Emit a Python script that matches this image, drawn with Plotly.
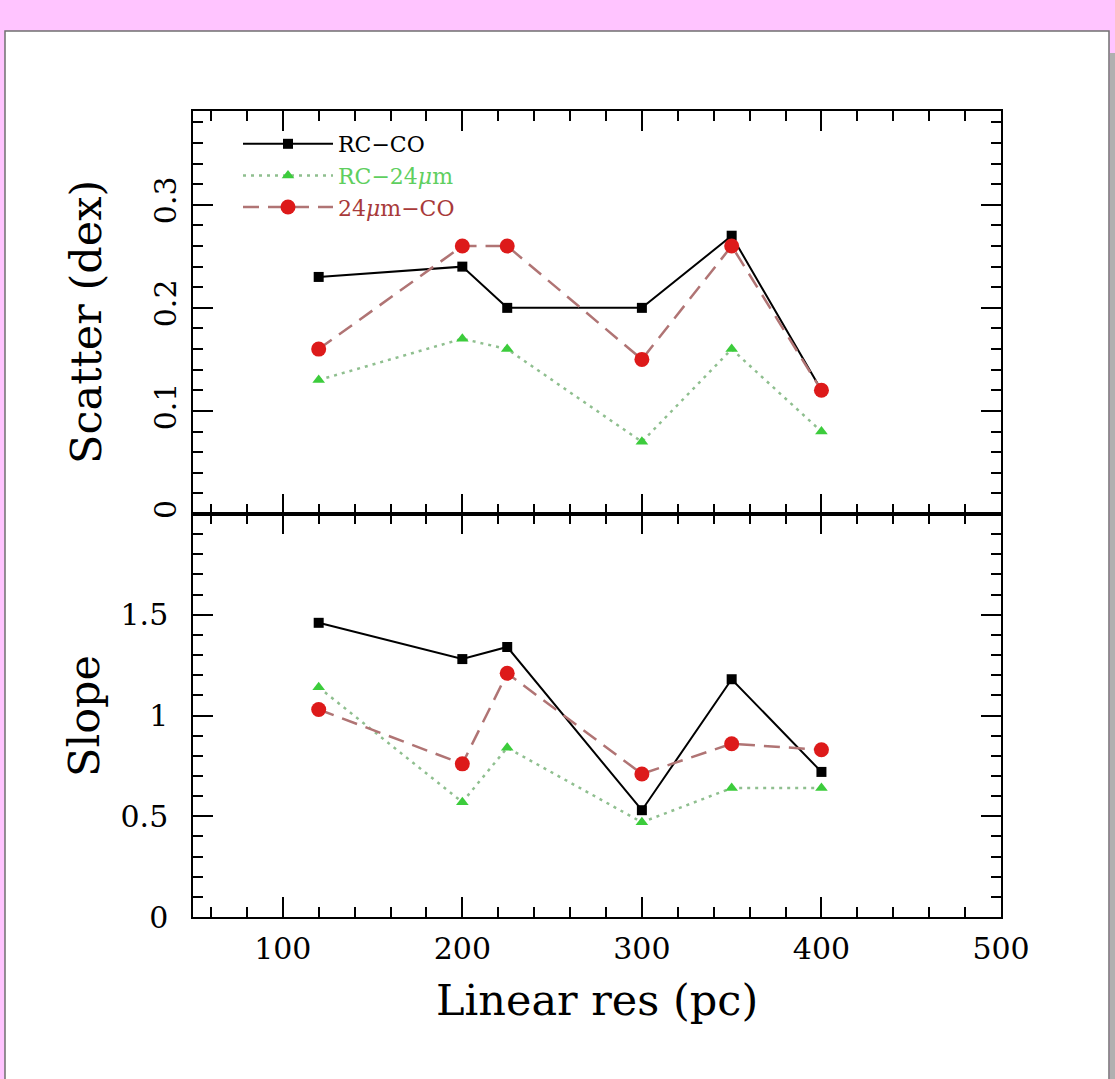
import plotly.graph_objects as go

# ---- data ----
res_pc = [120, 200, 225, 300, 350, 400]
scatter_rc_co = [0.23, 0.24, 0.20, 0.20, 0.27, 0.12]
scatter_rc_24 = [0.13, 0.17, 0.16, 0.07, 0.16, 0.08]
scatter_24_co = [0.16, 0.26, 0.26, 0.15, 0.26, 0.12]
slope_rc_co = [1.46, 1.28, 1.34, 0.53, 1.18, 0.72]
slope_rc_24 = [1.14, 0.57, 0.84, 0.47, 0.64, 0.64]
slope_24_co = [1.03, 0.76, 1.21, 0.71, 0.86, 0.83]

series_names = ["RC\u2212CO",
                "<span style='color:#5fcf5f'>RC\u221224<i>\u03bc</i>m</span>",
                "<span style='color:#a83a3a'>24<i>\u03bc</i>m\u2212CO</span>"]
x_tickvals = [100, 200, 300, 400, 500]

W, H = 1115, 1079
L, R, T, B = 193, 1001, 111, 917
FONT = "DejaVu Serif"

def fx(px):
    return (px - L) / (R - L)

def fy(py):
    return 1 - (py - T) / (B - T)

styles = [
    dict(line=dict(color="black", width=2, dash="solid"),
         marker=dict(symbol="square", size=10, color="black")),
    dict(line=dict(color="#8fbf8f", width=2.5, dash="3px,5px"),
         marker=dict(symbol="triangle-up", size=11, color="#3ccc3c")),
    dict(line=dict(color="#b07474", width=2.5, dash="16px,9px"),
         marker=dict(symbol="circle", size=15, color="#dd1a1a")),
]

fig = go.Figure()
top_sets = [scatter_rc_co, scatter_rc_24, scatter_24_co]
bot_sets = [slope_rc_co, slope_rc_24, slope_24_co]
for i in range(3):
    fig.add_trace(go.Scatter(x=res_pc, y=top_sets[i], mode="lines+markers",
                             name=series_names[i], xaxis="x", yaxis="y",
                             showlegend=True, **styles[i]))
for i in range(3):
    fig.add_trace(go.Scatter(x=res_pc, y=bot_sets[i], mode="lines+markers",
                             name=series_names[i], xaxis="x2", yaxis="y2",
                             showlegend=False, **styles[i]))

axis_common = dict(showline=True, linecolor="black", linewidth=1.5, mirror="allticks",
                   ticks="inside", tickcolor="black", tickwidth=1.5, ticklen=20,
                   showgrid=False, zeroline=False,
                   tickfont=dict(family=FONT, size=30, color="black"))

fig.update_layout(
    width=W, height=H,
    margin=dict(l=L, r=W - R, t=T, b=H - B),
    paper_bgcolor="#ffc4ff",
    plot_bgcolor="white",
    font=dict(family=FONT, color="black"),
    xaxis=dict(domain=[0, 1], anchor="y", range=[50, 500], tickvals=x_tickvals,
               showticklabels=False, matches="x2",
               minor=dict(dtick=20, tick0=0, ticklen=10, ticks="inside", tickcolor="black", tickwidth=1.5),
               **axis_common),
    yaxis=dict(domain=[0.5, 1], anchor="x", range=[0, 0.391], tickvals=[0, 0.1, 0.2, 0.3],
               ticktext=["0", "0.1", "0.2", "0.3"], tickangle=-90, ticklabelstandoff=3,
               minor=dict(dtick=0.02, tick0=0, ticklen=10, ticks="inside", tickcolor="black", tickwidth=1.5),
               **axis_common),
    xaxis2=dict(domain=[0, 1], anchor="y2", range=[50, 500], tickvals=x_tickvals,
                ticktext=[str(v) for v in x_tickvals], ticklabelstandoff=4,
                minor=dict(dtick=20, tick0=0, ticklen=10, ticks="inside", tickcolor="black", tickwidth=1.5),
                **axis_common),
    yaxis2=dict(domain=[0, 0.5], anchor="x2", range=[0, 2.0], tickvals=[0, 0.5, 1, 1.5],
                ticktext=["0", "0.5", "1", "1.5"], ticklabelstandoff=17,
                minor=dict(dtick=0.1, tick0=0, ticklen=10, ticks="inside", tickcolor="black", tickwidth=1.5),
                **axis_common),
    legend=dict(x=fx(238), y=fy(123), xanchor="left", yanchor="top",
                bgcolor="rgba(0,0,0,0)", font=dict(family=FONT, size=22, color="black"),
                tracegroupgap=0, itemwidth=90),
    showlegend=True,
)

# white card with border and shadow
fig.add_shape(type="rect", xref="paper", yref="paper", layer="below",
              x0=fx(1110), x1=fx(1116), y0=fy(1090), y1=fy(53),
              fillcolor="#b0b0b0", line=dict(width=0))
fig.add_shape(type="rect", xref="paper", yref="paper", layer="below",
              x0=fx(5), x1=fx(1109), y0=fy(1090), y1=fy(31),
              fillcolor="white", line=dict(color="#707070", width=1.5))

# axis titles
fig.add_annotation(text="Scatter (dex)", xref="paper", yref="paper", x=fx(86), y=fy(322),
                   xanchor="center", yanchor="middle",
                   textangle=-90, showarrow=False, font=dict(family=FONT, size=43, color="black"))
fig.add_annotation(text="Slope", xref="paper", yref="paper", x=fx(84), y=fy(716),
                   xanchor="center", yanchor="middle",
                   textangle=-90, showarrow=False, font=dict(family=FONT, size=43, color="black"))
fig.add_annotation(text="Linear res (pc)", xref="paper", yref="paper", x=fx(597), y=fy(1000),
                   xanchor="center", yanchor="middle",
                   showarrow=False, font=dict(family=FONT, size=43, color="black"))

fig.write_html("out.html")
